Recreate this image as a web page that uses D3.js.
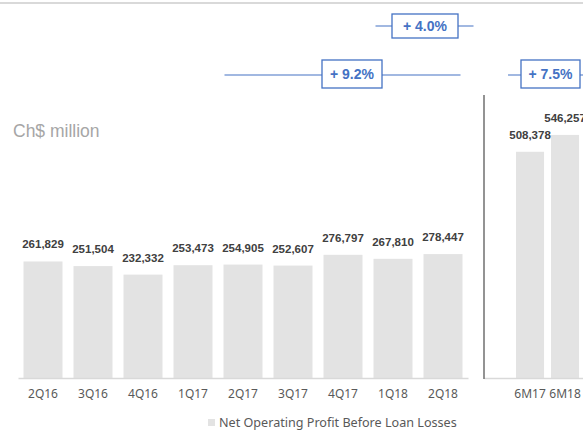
<!DOCTYPE html>
<html>
<head>
<meta charset="utf-8">
<script src="https://cdn.jsdelivr.net/npm/d3@7"></script>
<style>
  body { margin: 0; background: #fff; }
  svg { display: block; font-family: "Liberation Sans", Arial, sans-serif; }
</style>
</head>
<body>
<svg width="583" height="431"></svg>
<script>
// quarterly data
var quarters = ["2Q16", "3Q16", "4Q16", "1Q17", "2Q17", "3Q17", "4Q17", "1Q18", "2Q18"];
var quarterValues = [261829, 251504, 232332, 253473, 254905, 252607, 276797, 267810, 278447];
// half year data
var halves = ["6M17", "6M18"];
var halfValues = [508378, 546257];

var seriesName = "Net Operating Profit Before Loan Losses";
var unitLabel = "Ch$ million";

var svg = d3.select("svg");
var fmt = d3.format(",");

// top border
svg.append("rect").attr("x", 0).attr("y", 2).attr("width", 583).attr("height", 2).attr("fill", "#d9d9d9");

var y = d3.scaleLinear().domain([0, 600000]).range([378, 111]);

var x = d3.scaleBand().domain(quarters).range([18, 468]).paddingInner(0.22).paddingOuter(0.11);
var x2 = d3.scaleBand().domain(halves).range([484, 583]).paddingInner(0.2).paddingOuter(0.514).align(0.89);

function drawPanel(scale, cats, vals) {
    var g = svg.append("g");
    g.selectAll("rect")
        .data(vals)
        .enter().append("rect")
        .attr("x", (d, i) => scale(cats[i]))
        .attr("y", d => y(d))
        .attr("width", scale.bandwidth())
        .attr("height", d => y(0) - y(d))
        .attr("fill", "#e3e3e3");

    g.selectAll("text.lbl")
        .data(vals)
        .enter().append("text")
        .attr("class", "lbl")
        .attr("x", (d, i) => scale(cats[i]) + scale.bandwidth() / 2)
        .attr("y", d => y(d) - 13)
        .attr("text-anchor", "middle")
        .attr("font-size", 11.5)
        .attr("font-weight", "bold")
        .attr("fill", "#404040")
        .text(d => fmt(d));

    var ax = svg.append("g")
        .attr("transform", "translate(0," + y(0) + ")")
        .call(d3.axisBottom(scale).tickSize(0).tickSizeOuter(0).tickPadding(11));
    ax.select(".domain").attr("stroke", "#d9d9d9").attr("stroke-width", 1.5);
    ax.selectAll("text")
        .attr("font-family", "'Noto Sans', sans-serif")
        .attr("font-size", 12)
        .attr("fill", "#595959");
}

drawPanel(x, quarters, quarterValues);
drawPanel(x2, halves, halfValues);

// divider
svg.append("line")
    .attr("x1", 484).attr("x2", 484)
    .attr("y1", 95).attr("y2", y(0) + 1)
    .attr("stroke", "#595959").attr("stroke-width", 1.3);

// unit label
svg.append("text")
    .attr("x", 13).attr("y", 137)
    .attr("font-size", 17.5)
    .attr("fill", "#a6a6a6")
    .text(unitLabel);

// growth brackets
function growth(a, b) {
    return "+ " + d3.format(".1f")((b / a - 1) * 100) + "%";
}

function bracket(x1, xEnd, ly, bx, by, bw, bh, txt) {
    var g = svg.append("g");
    g.append("line").attr("x1", x1).attr("x2", xEnd).attr("y1", ly).attr("y2", ly)
        .attr("stroke", "#4472c4").attr("stroke-width", 1.2);
    g.append("rect").attr("x", bx).attr("y", by).attr("width", bw).attr("height", bh)
        .attr("fill", "#fff").attr("stroke", "#4472c4").attr("stroke-width", 1.3);
    g.append("text").attr("x", bx + bw / 2).attr("y", by + bh / 2 + 5)
        .attr("text-anchor", "middle")
        .attr("font-size", 14).attr("font-weight", "bold")
        .attr("fill", "#4472c4")
        .text(txt);
}

var last = quarterValues.length - 1;
bracket(x("1Q18") + 2, x("2Q18") + x.bandwidth() + 11, 26, 392, 14, 66, 24,
    growth(quarterValues[last - 1], quarterValues[last]));
bracket(x("2Q17") + 1, x("2Q18") + x.bandwidth() - 2, 75, 322, 60, 60, 28,
    growth(quarterValues[last - 4], quarterValues[last]));
bracket(x2("6M17") - 8, 590, 75, 521, 60, 59, 28,
    growth(halfValues[0], halfValues[1]));

// legend
svg.append("rect").attr("x", 208).attr("y", 419).attr("width", 7).attr("height", 7).attr("fill", "#e3e3e3");
svg.append("text")
    .attr("x", 219).attr("y", 427)
    .attr("font-family", "'Noto Sans', sans-serif")
    .attr("font-size", 12.6)
    .attr("fill", "#595959")
    .text(seriesName);
</script>
</body>
</html>
